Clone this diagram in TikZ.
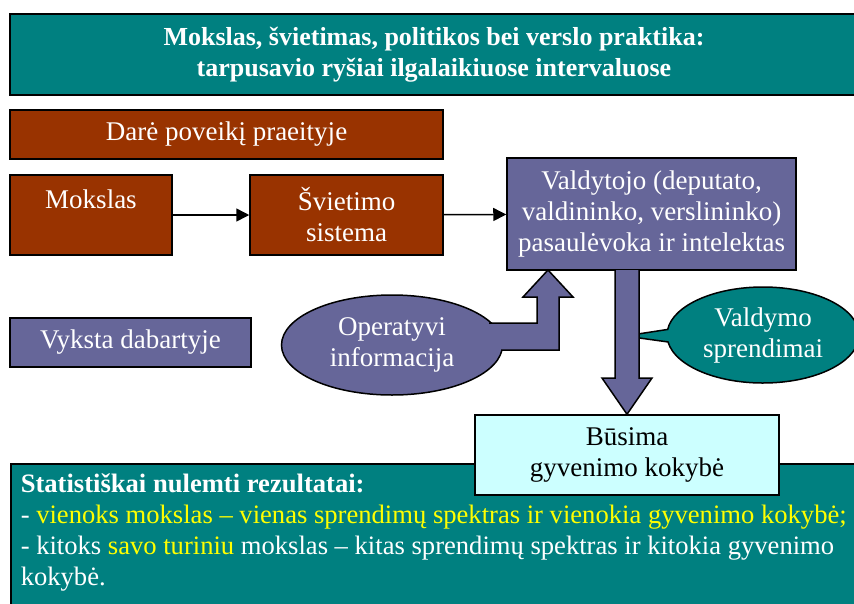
\documentclass[tikz,border=0pt]{standalone}
\usepackage{fontspec}
\setmainfont{Liberation Serif}
\usetikzlibrary{arrows.meta,shapes.geometric,shapes.callouts}

\definecolor{tealfill}{HTML}{008080}
\definecolor{brownfill}{HTML}{993300}
\definecolor{violetfill}{HTML}{666699}
\definecolor{cyanfill}{HTML}{CCFFFF}
\definecolor{markyellow}{HTML}{FFFF00}

\tikzset{
  box/.style={draw=black, line width=1.5pt, text=white, align=center,
    inner sep=0pt, font=\fontsize{27}{31}\selectfont},
  pastbox/.style={box, fill=brownfill},
  nowbox/.style={box, fill=violetfill},
  blockfill/.style={fill=violetfill},
  blockline/.style={draw=black, line width=1.5pt, line join=miter},
  thinarrow/.style={line width=1.5pt, -{Triangle[length=13pt,width=13pt]}}
}

\begin{document}
\begin{tikzpicture}[x=1pt,y=-1pt]
\useasboundingbox (0,0) rectangle (854,603);
% title
\node[box, fill=tealfill, line width=2.5pt, minimum width=848, minimum height=81,
  font=\bfseries\fontsize{26}{31}\selectfont] (title) at (434,54.5)
  {Mokslas, švietimas, politikos bei verslo praktika:\\tarpusavio ryšiai ilgalaikiuose intervaluose};

% past
\node[pastbox, minimum width=433, minimum height=49] (past) at (226.5,134.5) {Darė poveikį praeityje};
\node[pastbox, minimum width=162, minimum height=80] (mokslas) at (91,215) {Mokslas\\\mbox{}};
\node[pastbox, minimum width=193, minimum height=80] (svietimas) at (346.5,215) {Švietimo\\sistema};
\node[nowbox, minimum width=289, minimum height=112] (valdytojas) at (651.5,214)
  {Valdytojo (deputato,\\valdininko, verslininko)\\pasaulėvoka ir intelektas};
\draw[thinarrow] (mokslas) -- (svietimas);
\draw[thinarrow] (svietimas) -- (valdytojas);

% present
\node[nowbox, minimum width=241, minimum height=49] (dabar) at (130.5,342.5) {Vyksta dabartyje};
\node[nowbox, ellipse, minimum width=221, minimum height=100] (info) at (392,345) {Operatyvi\\informacija};

% bent arrow into the manager box
\coordinate (uptip) at (548,270);
\fill[blockfill] (480,323) -- (537,323) -- (537,297) -- (523,297) -- (uptip)
  -- (573,297) -- (559,297) -- (559,350) -- (480,350) -- cycle;
\draw[blockline] (489,323) -- (537,323) -- (537,297) -- (523,297) -- (uptip)
  -- (573,297) -- (559,297) -- (559,350) -- (501,350);

% decisions
\node[box, fill=tealfill, ellipse callout, minimum width=192, minimum height=96,
  callout absolute pointer={(625,336)}] (sprendimai) at (763,335) {Valdymo\\sprendimai};

% result boxes
\node[box, fill=tealfill, anchor=north west, minimum width=850, minimum height=150] (rezbox) at (10,463) {};
\node[box, draw=none, text=white, anchor=north west, align=left,
  font=\fontsize{26.6}{31}\selectfont] (rezultatai) at (20,473)
  {\textbf{Statistiškai nulemti rezultatai:}\\
  - \textcolor{markyellow}{vienoks mokslas – vienas sprendimų spektras ir vienokia gyvenimo kokybė;}\\
  - kitoks \textcolor{markyellow}{savo turiniu} mokslas – kitas sprendimų spektras ir kitokia gyvenimo\\
  kokybė.};
\node[box, fill=cyanfill, text=black, minimum width=304, minimum height=80] (busima) at (627,455)
  {Būsima\\gyvenimo kokybė};

% arrow down to the future
\coordinate (downtip) at (busima.north);
\fill[blockfill] (615,270) -- (615,378) -- (602,378) -- (downtip) -- (652,378) -- (639,378) -- (639,270) -- cycle;
\draw[blockline] (615,270) -- (615,378) -- (602,378) -- (downtip) -- (652,378) -- (639,378) -- (639,270);
\end{tikzpicture}
\end{document}
